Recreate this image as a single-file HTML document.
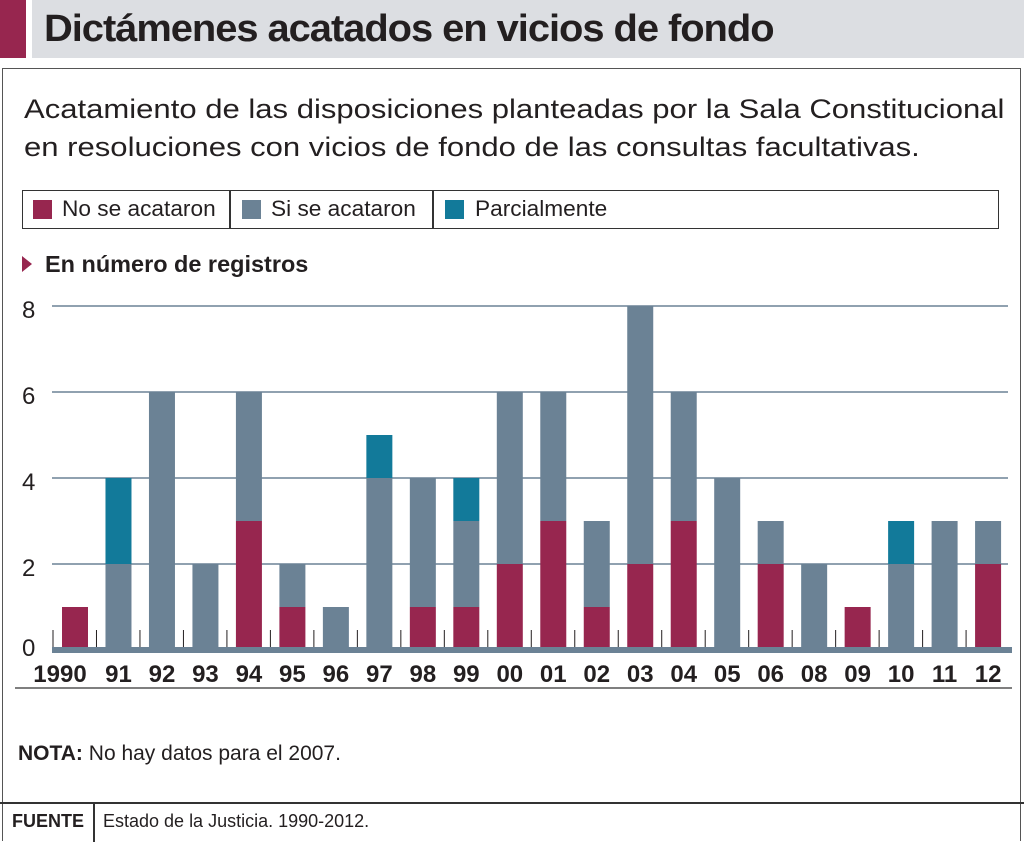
<!DOCTYPE html>
<html><head><meta charset="utf-8"><style>
body{margin:0;width:1024px;height:842px;background:#fff;position:relative;overflow:hidden;font-family:"Liberation Sans",sans-serif;color:#231f20}
.a{position:absolute}
</style></head><body>
<div class="a" style="left:0;top:0;width:26px;height:58px;background:#97264f"></div>
<div class="a" style="left:32px;top:0;width:992px;height:58px;background:#dcdee2"></div>
<div class="a" style="left:44px;top:6px;font-size:38px;font-weight:bold;letter-spacing:-1px;line-height:46px;transform:scaleX(1.05);transform-origin:left;white-space:nowrap">Dictámenes acatados en vicios de fondo</div>
<div class="a" style="left:2px;top:68px;width:1017px;height:772px;border:1.5px solid #555;border-bottom:none"></div>
<div class="a" style="left:24px;top:90px;font-size:27px;line-height:38px;color:#231f20;transform:scaleX(1.15);transform-origin:left;white-space:nowrap">Acatamiento de las disposiciones planteadas por la Sala Constitucional<br>en resoluciones con vicios de fondo de las consultas facultativas.</div>
<div class="a" style="left:22px;top:190px;width:975px;height:37px;border:1.5px solid #333"></div>
<div class="a" style="left:229px;top:190px;width:1.5px;height:39px;background:#333"></div>
<div class="a" style="left:432px;top:190px;width:1.5px;height:39px;background:#333"></div>
<div class="a" style="left:33px;top:200px;width:19px;height:19px;background:#97264f"></div>
<div class="a" style="left:62px;top:196px;font-size:22px;transform:scaleX(1.03);transform-origin:left">No se acataron</div>
<div class="a" style="left:242px;top:200px;width:19px;height:19px;background:#6b8295"></div>
<div class="a" style="left:271px;top:196px;font-size:22px;transform:scaleX(1.03);transform-origin:left">Si se acataron</div>
<div class="a" style="left:445px;top:200px;width:19px;height:19px;background:#127a9a"></div>
<div class="a" style="left:475px;top:196px;font-size:22px;transform:scaleX(1.03);transform-origin:left">Parcialmente</div>
<div class="a" style="left:22px;top:256px;width:0;height:0;border-left:10px solid #97264f;border-top:8px solid transparent;border-bottom:8px solid transparent"></div>
<div class="a" style="left:45px;top:251px;font-size:23px;font-weight:bold;transform:scaleX(1.02);transform-origin:left;white-space:nowrap">En número de registros</div>
<svg class="a" style="left:0;top:0" width="1024" height="842">
<g stroke="#6b8295" stroke-width="1.5">
<line x1="52" y1="306" x2="1008" y2="306"/><line x1="52" y1="392" x2="1008" y2="392"/><line x1="52" y1="478" x2="1008" y2="478"/><line x1="52" y1="564" x2="1008" y2="564"/>
</g>
<g font-size="24" fill="#231f20"><text x="22" y="318">8</text><text x="22" y="404">6</text><text x="22" y="490">4</text><text x="22" y="576">2</text><text x="22" y="656">0</text></g>
<g id="bars"></g>
<rect x="52" y="647" width="960" height="6" fill="#6b8295"/>
<line x1="15" y1="688" x2="1012" y2="688" stroke="#555" stroke-width="1.5"/>
<g id="labs" font-size="24" font-weight="bold" fill="#231f20" text-anchor="middle"></g>
</svg>
<div class="a" style="left:18px;top:742px;font-size:21px"><b>NOTA:</b> No hay datos para el 2007.</div>
<div class="a" style="left:0;top:802px;width:1024px;height:1.5px;background:#333"></div>
<div class="a" style="left:93px;top:802px;width:1.5px;height:40px;background:#333"></div>
<div class="a" style="left:12px;top:811px;font-size:18px;font-weight:bold">FUENTE</div>
<div class="a" style="left:103px;top:811px;font-size:18px">Estado de la Justicia. 1990-2012.</div>
<script>
var d=[[1,0,0],[0,2,2],[0,6,0],[0,2,0],[3,3,0],[1,1,0],[0,1,0],[0,4,1],[1,3,0],[1,2,1],[2,4,0],[3,3,0],[1,2,0],[2,6,0],[3,3,0],[0,4,0],[2,1,0],[0,2,0],[1,0,0],[0,2,1],[0,3,0],[2,1,0]];
var L=["1990","91","92","93","94","95","96","97","98","99","00","01","02","03","04","05","06","08","09","10","11","12"];
var c=["#97264f","#6b8295","#127a9a"],s="",t="",u=43;
d.forEach(function(v,i){var x=62+i*43.48,y=650;for(var k=0;k<3;k++){if(v[k]){var h=v[k]*u;y-=h;s+='<rect x="'+x+'" y="'+y+'" width="26" height="'+h+'" fill="'+c[k]+'"/>';}}
s+='<line x1="'+(x-9)+'" y1="630" x2="'+(x-9)+'" y2="648" stroke="#231f20" stroke-width="1"/>';
t+='<text x="'+(i==0?60:x+13)+'" y="682">'+L[i]+'</text>';});
document.getElementById("bars").innerHTML=s;document.getElementById("labs").innerHTML=t;
</script>
</body></html>
